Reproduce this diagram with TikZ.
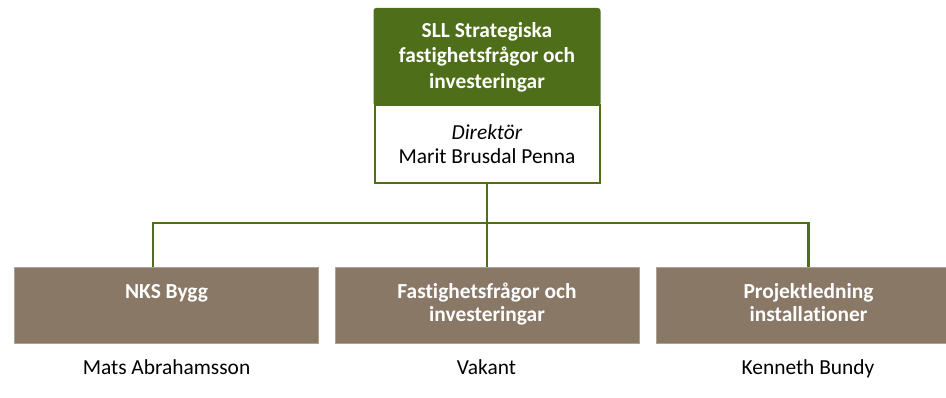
\documentclass[tikz,border=0pt]{standalone}
\usepackage{fontspec}
\setmainfont{Carlito}[Ligatures=CommonOff]
\usetikzlibrary{positioning}
\definecolor{sllgreen}{HTML}{4F6E19}
\definecolor{unitbrown}{HTML}{8A7866}
\begin{document}
\begin{tikzpicture}[x=1pt, y=-1pt,
    txt/.style={font=\fontsize{21.4}{23}\selectfont, align=center, inner sep=0pt},
    head/.style={txt, draw=sllgreen, fill=sllgreen, line width=2pt, rounded corners=2pt, text=white, font=\fontsize{21.4}{25.5}\selectfont\bfseries, minimum width=225, minimum height=96},
    chief/.style={txt, draw=sllgreen, fill=white, line width=2pt, font=\fontsize{21.4}{23.5}\selectfont, minimum width=225, minimum height=78},
    unit/.style={txt, fill=unitbrown, draw=unitbrown!70!white, line width=0.6pt, text=white, font=\fontsize{21.4}{23}\selectfont\bfseries, minimum width=304, minimum height=76},
    link/.style={draw=sllgreen, line width=2.2pt}]
    \useasboundingbox (0,0) rectangle (946,398);
    % Ledning
    \node[head] (sll) at (487,57) {SLL Strategiska\\fastighetsfrågor och\\investeringar};
    \node[chief] (dir) at (487,144) {\textit{Direktör}\\Marit Brusdal Penna};

    % Enheter
    \node[unit] (nks) at (166.5,305) {NKS Bygg\strut\\\strut};
    \node[unit] (fast) at (487,305) {Fastighetsfrågor och\strut\\investeringar\strut};
    \node[unit] (proj) at (808.5,305) {Projektledning\strut\\installationer\strut};

    \node[txt, anchor=base] (nksname) at (166.5,374) {Mats Abrahamsson};
    \node[txt, anchor=base] (fastname) at (486.5,374) {Vakant};
    \node[txt, anchor=base] (projname) at (808,374) {Kenneth Bundy};

    \coordinate (bus) at (487,223);
    \draw[link] (dir.south) -- (bus);
    \draw[link] ([xshift=-13.5pt]nks.north) |- (bus) -| (proj.north);
    \draw[link] (bus) -- (fast.north);
\end{tikzpicture}
\end{document}
